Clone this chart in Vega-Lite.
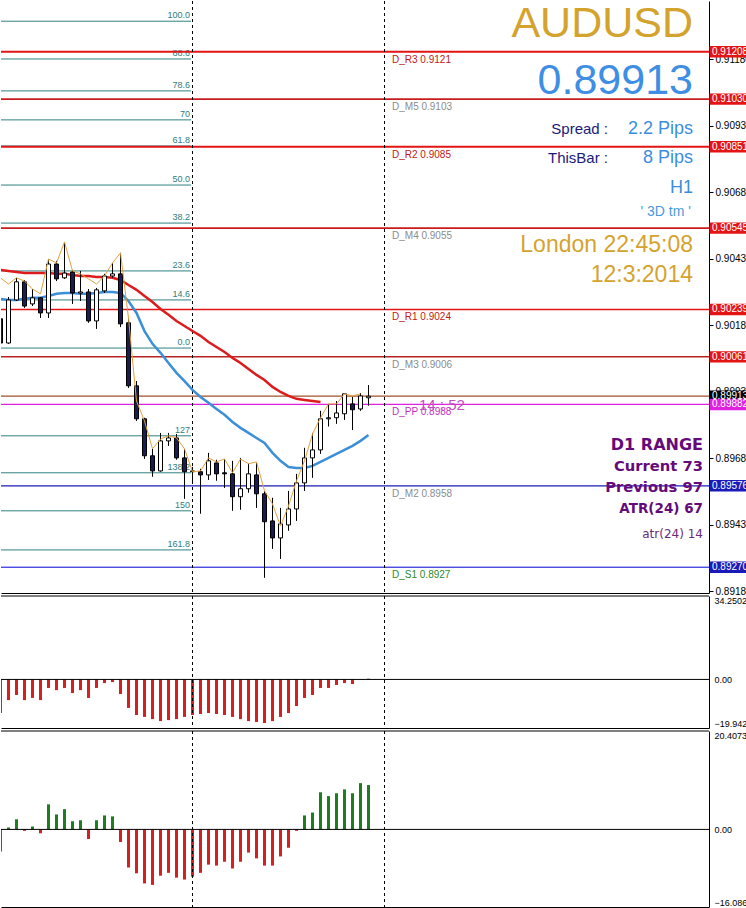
{
  "$schema": "https://vega.github.io/schema/vega-lite/v6.json",
  "padding": 0,
  "background": "white",
  "spacing": 3,
  "bounds": "flush",
  "config": {"view": {"stroke": null}, "axis": {"grid": false, "domainColor": "black", "tickColor": "black", "labelColor": "black", "labelFont": "Liberation Sans", "labelFontSize": 10}},
  "resolve": {"scale": {"x": "independent", "y": "independent", "color": "independent"}},
  "datasets": {
    "candles": [
      {"i":0,"o":0.90204,"h":0.90226,"l":0.90102,"c":0.90113,"r":0.90388,"b":0.90279,"z":0.90358},
      {"i":1,"o":0.90113,"h":0.90286,"l":0.90110,"c":0.90275,"r":0.90384,"b":0.90275,"z":0.90335},
      {"i":2,"o":0.90275,"h":0.90358,"l":0.90271,"c":0.90343,"r":0.90380,"b":0.90275,"z":0.90358},
      {"i":3,"o":0.90343,"h":0.90350,"l":0.90245,"c":0.90252,"r":0.90376,"b":0.90279,"z":0.90346},
      {"i":4,"o":0.90260,"h":0.90316,"l":0.90252,"c":0.90283,"r":0.90376,"b":0.90283,"z":0.90316},
      {"i":5,"o":0.90283,"h":0.90286,"l":0.90207,"c":0.90226,"r":0.90376,"b":0.90283,"z":0.90298},
      {"i":6,"o":0.90226,"h":0.90429,"l":0.90207,"c":0.90410,"r":0.90376,"b":0.90290,"z":0.90429},
      {"i":7,"o":0.90410,"h":0.90422,"l":0.90346,"c":0.90354,"r":0.90373,"b":0.90298,"z":0.90414},
      {"i":8,"o":0.90358,"h":0.90493,"l":0.90354,"c":0.90376,"r":0.90373,"b":0.90301,"z":0.90493},
      {"i":9,"o":0.90380,"h":0.90388,"l":0.90260,"c":0.90301,"r":0.90369,"b":0.90301,"z":0.90384},
      {"i":10,"o":0.90301,"h":0.90384,"l":0.90271,"c":0.90305,"r":0.90365,"b":0.90298,"z":0.90373},
      {"i":11,"o":0.90305,"h":0.90316,"l":0.90189,"c":0.90196,"r":0.90365,"b":0.90298,"z":0.90354},
      {"i":12,"o":0.90196,"h":0.90320,"l":0.90166,"c":0.90313,"r":0.90361,"b":0.90301,"z":0.90335},
      {"i":13,"o":0.90309,"h":0.90373,"l":0.90301,"c":0.90365,"r":0.90361,"b":0.90305,"z":0.90365},
      {"i":14,"o":0.90365,"h":0.90414,"l":0.90358,"c":0.90373,"r":0.90358,"b":0.90305,"z":0.90414},
      {"i":15,"o":0.90373,"h":0.90452,"l":0.90173,"c":0.90185,"r":0.90350,"b":0.90301,"z":0.90452},
      {"i":16,"o":0.90189,"h":0.90207,"l":0.89944,"c":0.89952,"r":0.90331,"b":0.90271,"z":0.90207},
      {"i":17,"o":0.89952,"h":0.89970,"l":0.89820,"c":0.89828,"r":0.90313,"b":0.90226,"z":0.89895},
      {"i":18,"o":0.89828,"h":0.89832,"l":0.89677,"c":0.89689,"r":0.90290,"b":0.90158,"z":0.89820},
      {"i":19,"o":0.89689,"h":0.89715,"l":0.89610,"c":0.89632,"r":0.90267,"b":0.90110,"z":0.89715},
      {"i":20,"o":0.89632,"h":0.89775,"l":0.89629,"c":0.89745,"r":0.90241,"b":0.90076,"z":0.89752},
      {"i":21,"o":0.89745,"h":0.89775,"l":0.89726,"c":0.89756,"r":0.90219,"b":0.90038,"z":0.89764},
      {"i":22,"o":0.89756,"h":0.89771,"l":0.89674,"c":0.89681,"r":0.90196,"b":0.90001,"z":0.89756},
      {"i":23,"o":0.89681,"h":0.89715,"l":0.89527,"c":0.89629,"r":0.90177,"b":0.89970,"z":0.89715},
      {"i":24,"o":0.89629,"h":0.89647,"l":0.89583,"c":0.89632,"r":0.90158,"b":0.89937,"z":0.89629},
      {"i":25,"o":0.89629,"h":0.89640,"l":0.89471,"c":0.89617,"r":0.90140,"b":0.89910,"z":0.89632},
      {"i":26,"o":0.89617,"h":0.89700,"l":0.89598,"c":0.89670,"r":0.90117,"b":0.89888,"z":0.89681},
      {"i":27,"o":0.89662,"h":0.89674,"l":0.89595,"c":0.89621,"r":0.90098,"b":0.89865,"z":0.89666},
      {"i":28,"o":0.89625,"h":0.89677,"l":0.89568,"c":0.89621,"r":0.90079,"b":0.89843,"z":0.89677},
      {"i":29,"o":0.89621,"h":0.89670,"l":0.89482,"c":0.89535,"r":0.90057,"b":0.89816,"z":0.89625},
      {"i":30,"o":0.89535,"h":0.89681,"l":0.89486,"c":0.89565,"r":0.90038,"b":0.89794,"z":0.89677},
      {"i":31,"o":0.89565,"h":0.89659,"l":0.89550,"c":0.89621,"r":0.90015,"b":0.89775,"z":0.89659},
      {"i":32,"o":0.89617,"h":0.89662,"l":0.89493,"c":0.89546,"r":0.89993,"b":0.89756,"z":0.89666},
      {"i":33,"o":0.89546,"h":0.89557,"l":0.89230,"c":0.89441,"r":0.89974,"b":0.89737,"z":0.89557},
      {"i":34,"o":0.89444,"h":0.89531,"l":0.89339,"c":0.89380,"r":0.89948,"b":0.89700,"z":0.89508},
      {"i":35,"o":0.89380,"h":0.89493,"l":0.89301,"c":0.89433,"r":0.89929,"b":0.89670,"z":0.89425},
      {"i":36,"o":0.89429,"h":0.89557,"l":0.89407,"c":0.89489,"r":0.89914,"b":0.89647,"z":0.89500},
      {"i":37,"o":0.89489,"h":0.89621,"l":0.89444,"c":0.89587,"r":0.89903,"b":0.89643,"z":0.89595},
      {"i":38,"o":0.89587,"h":0.89719,"l":0.89557,"c":0.89681,"r":0.89899,"b":0.89643,"z":0.89670},
      {"i":39,"o":0.89681,"h":0.89775,"l":0.89606,"c":0.89711,"r":0.89895,"b":0.89651,"z":0.89771},
      {"i":40,"o":0.89711,"h":0.89858,"l":0.89696,"c":0.89828,"r":0.89891,"b":0.89666,"z":0.89832},
      {"i":41,"o":0.89828,"h":0.89884,"l":0.89799,"c":0.89832,"b":0.89681,"z":0.89884},
      {"i":42,"o":0.89832,"h":0.89895,"l":0.89809,"c":0.89850,"b":0.89696,"z":0.89884},
      {"i":43,"o":0.89847,"h":0.89922,"l":0.89824,"c":0.89922,"b":0.89711,"z":0.89922},
      {"i":44,"o":0.89884,"h":0.89910,"l":0.89786,"c":0.89862,"b":0.89726,"z":0.89914},
      {"i":45,"o":0.89865,"h":0.89925,"l":0.89858,"c":0.89914,"b":0.89745,"z":0.89922},
      {"i":46,"o":0.89907,"h":0.89955,"l":0.89877,"c":0.89913,"b":0.89767}
    ],
    "pivots": [
      {"n":"D_R3","p":0.91208,"t":"D_R3 0.9121"},
      {"n":"D_M5","p":0.91030,"t":"D_M5 0.9103"},
      {"n":"D_R2","p":0.90851,"t":"D_R2 0.9085"},
      {"n":"D_M4","p":0.90545,"t":"D_M4 0.9055"},
      {"n":"D_R1","p":0.90239,"t":"D_R1 0.9024"},
      {"n":"D_M3","p":0.90061,"t":"D_M3 0.9006"},
      {"n":"Bid","p":0.89913,"t":""},
      {"n":"D_PP","p":0.89882,"t":"D_PP 0.8988"},
      {"n":"D_M2","p":0.89576,"t":"D_M2 0.8958"},
      {"n":"D_S1","p":0.89270,"t":"D_S1 0.8927"}
    ],
    "fibs": [
      {"f":"100.0","p":0.91323},{"f":"88.6","p":0.91181},{"f":"78.6","p":0.91061},{"f":"70","p":0.90952},
      {"f":"61.8","p":0.90854},{"f":"50.0","p":0.90707},{"f":"38.2","p":0.90564},{"f":"23.6","p":0.90384},
      {"f":"14.6","p":0.90275},{"f":"0.0","p":0.90094},{"f":"127","p":0.89764},{"f":"138.2","p":0.89625},
      {"f":"150","p":0.89482},{"f":"161.8","p":0.89335}
    ],
    "seps": [{"i":24},{"i":48}],
    "osc1": [
      {"i":0,"v":-13.8},{"i":1,"v":-8.5},{"i":2,"v":-6.4},{"i":3,"v":-8.5},{"i":4,"v":-7.6},{"i":5,"v":-8.5},
      {"i":6,"v":-3.5},{"i":7,"v":-4.4},{"i":8,"v":-3.5},{"i":9,"v":-5.6},{"i":10,"v":-4.4},{"i":11,"v":-7.6},
      {"i":12,"v":-3.5},{"i":13,"v":-1.5},{"i":14,"v":-1.1},{"i":15,"v":-6.0},{"i":16,"v":-11.7},{"i":17,"v":-14.6},
      {"i":18,"v":-15.4},{"i":19,"v":-16.3},{"i":20,"v":-17.1},{"i":21,"v":-16.7},{"i":22,"v":-16.3},{"i":23,"v":-15.4},
      {"i":24,"v":-14.6},{"i":25,"v":-14.2},{"i":26,"v":-13.8},{"i":27,"v":-14.2},{"i":28,"v":-14.6},{"i":29,"v":-15.4},
      {"i":30,"v":-16.3},{"i":31,"v":-17.1},{"i":32,"v":-17.5},{"i":33,"v":-17.9},{"i":34,"v":-17.1},{"i":35,"v":-15.4},
      {"i":36,"v":-13.8},{"i":37,"v":-10.9},{"i":38,"v":-7.6},{"i":39,"v":-6.4},{"i":40,"v":-3.5},{"i":41,"v":-3.5},
      {"i":42,"v":-2.3},{"i":43,"v":-1.5},{"i":44,"v":-1.9},{"i":46,"v":0.3}
    ],
    "osc2": [
      {"i":0,"v":-4.6},{"i":1,"v":0.4},{"i":2,"v":2.1},{"i":3,"v":-0.3},{"i":4,"v":0.6},{"i":5,"v":-0.8},
      {"i":6,"v":5.2},{"i":7,"v":3.1},{"i":8,"v":4.2},{"i":9,"v":1.7},{"i":10,"v":1.9},{"i":11,"v":-2.0},
      {"i":12,"v":1.9},{"i":13,"v":2.9},{"i":14,"v":2.7},{"i":15,"v":-2.6},{"i":16,"v":-7.9},{"i":17,"v":-9.1},
      {"i":18,"v":-11.2},{"i":19,"v":-11.5},{"i":20,"v":-9.6},{"i":21,"v":-9.0},{"i":22,"v":-10.0},{"i":23,"v":-10.4},
      {"i":24,"v":-9.8},{"i":25,"v":-9.0},{"i":26,"v":-7.3},{"i":27,"v":-7.5},{"i":28,"v":-6.7},{"i":29,"v":-8.1},
      {"i":30,"v":-6.7},{"i":31,"v":-4.8},{"i":32,"v":-6.0},{"i":33,"v":-7.5},{"i":34,"v":-7.5},{"i":35,"v":-5.6},
      {"i":36,"v":-3.8},{"i":37,"v":-0.3},{"i":38,"v":2.9},{"i":39,"v":3.5},{"i":40,"v":7.7},{"i":41,"v":6.9},
      {"i":42,"v":7.5},{"i":43,"v":8.3},{"i":44,"v":7.5},{"i":45,"v":9.6},{"i":46,"v":9.2}
    ]
  },
  "vconcat": [
    {
      "width": 708,
      "height": 592,
      "resolve": {"scale": {"color": "independent"}},
      "layer": [
        {
          "data": {"name": "fibs"},
          "mark": {"type": "rule", "color": "#2e8080", "strokeWidth": 1},
          "encoding": {
            "x": {"datum": 0.0625, "type": "quantitative", "scale": {"domain": [0.0625, 88.5625], "nice": false, "zero": false, "padding": 0}, "axis": {"orient": "bottom", "labels": false, "ticks": false, "domain": true, "title": null}},
            "x2": {"datum": 23.81},
            "y": {"field": "p", "type": "quantitative", "scale": {"domain": [0.89173, 0.91399], "nice": false, "zero": false, "padding": 0}, "axis": {"orient": "right", "title": null, "values": [0.8918, 0.89305, 0.8943, 0.89555, 0.8968, 0.89805, 0.8993, 0.90055, 0.9018, 0.90305, 0.9043, 0.90555, 0.9068, 0.90805, 0.9093, 0.91055, 0.9118, 0.91305], "format": ".5f", "tickSize": 4, "labelPadding": 2, "domain": true}}
          }
        },
        {
          "data": {"name": "fibs"},
          "mark": {"type": "text", "align": "right", "baseline": "bottom", "dy": -1, "font": "Liberation Sans", "fontSize": 9, "color": "#2e7e7e"},
          "encoding": {"x": {"datum": 23.69, "type": "quantitative"}, "y": {"field": "p", "type": "quantitative"}, "text": {"field": "f"}}
        },
        {
          "data": {"name": "pivots"},
          "mark": {"type": "rule"},
          "encoding": {
            "y": {"field": "p", "type": "quantitative"},
            "color": {"field": "n", "type": "nominal", "legend": null, "scale": {"domain": ["D_R3","D_M5","D_R2","D_M4","D_R1","D_M3","Bid","D_PP","D_M2","D_S1"], "range": ["#e31414","#c81c1c","#e31414","#c81c1c","#e31414","#b82222","#a0522d","#e020e0","#1a1ab8","#0000d8"]}},
            "strokeWidth": {"field": "n", "type": "ordinal", "legend": null, "scale": {"domain": ["D_R3","D_M5","D_R2","D_M4","D_R1","D_M3","Bid","D_PP","D_M2","D_S1"], "range": [2,1,2,1,2,1,1,2,1,2]}}
          }
        },
        {
          "data": {"name": "pivots"},
          "mark": {"type": "text", "align": "left", "baseline": "top", "dy": 3, "font": "Liberation Sans", "fontSize": 10},
          "encoding": {
            "x": {"datum": 48.94, "type": "quantitative"},
            "y": {"field": "p", "type": "quantitative"},
            "text": {"field": "t"},
            "color": {"field": "n", "type": "nominal", "legend": null, "scale": {"domain": ["D_R3","D_M5","D_R2","D_M4","D_R1","D_M3","Bid","D_PP","D_M2","D_S1"], "range": ["#c01818","#8c8c8c","#c01818","#8c8c8c","#c01818","#8c8c8c","#000000","#c030c0","#8c8c8c","#2a8a2a"]}}
          }
        },
        {
          "data": {"name": "seps"},
          "mark": {"type": "rule", "color": "black", "strokeWidth": 1, "strokeDash": [3, 3]},
          "encoding": {"x": {"field": "i", "type": "quantitative"}}
        },
        {
          "data": {"name": "candles"},
          "mark": {"type": "line", "color": "#dc1c1c", "strokeWidth": 2.5, "clip": true},
          "encoding": {"x": {"field": "i", "type": "quantitative"}, "y": {"field": "r", "type": "quantitative"}}
        },
        {
          "data": {"name": "candles"},
          "mark": {"type": "line", "color": "#3b8fd9", "strokeWidth": 2.5, "clip": true},
          "encoding": {"x": {"field": "i", "type": "quantitative"}, "y": {"field": "b", "type": "quantitative"}}
        },
        {
          "data": {"name": "candles"},
          "mark": {"type": "rule", "color": "black", "strokeWidth": 1, "clip": true},
          "encoding": {"x": {"field": "i", "type": "quantitative"}, "y": {"field": "l", "type": "quantitative"}, "y2": {"field": "h"}}
        },
        {
          "data": {"name": "candles"},
          "mark": {"type": "bar", "width": 4, "stroke": "black", "strokeWidth": 1, "clip": true},
          "encoding": {
            "x": {"field": "i", "type": "quantitative"},
            "y": {"field": "o", "type": "quantitative"},
            "y2": {"field": "c"},
            "fill": {"condition": {"test": "datum.c >= datum.o", "value": "white"}, "value": "#1c1c54"}
          }
        },
        {
          "data": {"name": "candles"},
          "mark": {"type": "line", "color": "#e3a040", "strokeWidth": 1, "clip": true},
          "encoding": {"x": {"field": "i", "type": "quantitative"}, "y": {"field": "z", "type": "quantitative"}}
        },
        {
          "data": {"values": [{"t": "14 : 52"}]},
          "mark": {"type": "text", "align": "left", "baseline": "middle", "font": "Liberation Sans", "fontSize": 15, "color": "#c050c0"},
          "encoding": {"x": {"datum": 52.31, "type": "quantitative"}, "y": {"datum": 0.8988, "type": "quantitative"}, "text": {"field": "t"}}
        },
        {
          "data": {"values": [{"t": "AUDUSD"}]},
          "mark": {"type": "text", "align": "right", "baseline": "alphabetic", "font": "Liberation Sans", "fontSize": 43, "color": "#d4a32e"},
          "encoding": {"x": {"datum": 86.56, "type": "quantitative"}, "y": {"datum": 0.91264, "type": "quantitative"}, "text": {"field": "t"}}
        },
        {
          "data": {"values": [{"t": "0.89913"}]},
          "mark": {"type": "text", "align": "right", "baseline": "alphabetic", "font": "Liberation Sans", "fontSize": 43, "color": "#3d8ee4"},
          "encoding": {"x": {"datum": 86.56, "type": "quantitative"}, "y": {"datum": 0.91049, "type": "quantitative"}, "text": {"field": "t"}}
        },
        {
          "data": {"values": [{"t": "Spread :", "p": 0.90899}, {"t": "ThisBar :", "p": 0.9079}]},
          "mark": {"type": "text", "align": "right", "baseline": "alphabetic", "font": "Liberation Sans", "fontSize": 15, "color": "#1a1a7a"},
          "encoding": {"x": {"datum": 75.94, "type": "quantitative"}, "y": {"field": "p", "type": "quantitative"}, "text": {"field": "t"}}
        },
        {
          "data": {"values": [{"t": "2.2 Pips", "p": 0.90899}, {"t": "8 Pips", "p": 0.9079}, {"t": "H1", "p": 0.90677}]},
          "mark": {"type": "text", "align": "right", "baseline": "alphabetic", "font": "Liberation Sans", "fontSize": 18, "color": "#3a8ee0"},
          "encoding": {"x": {"datum": 86.56, "type": "quantitative"}, "y": {"field": "p", "type": "quantitative"}, "text": {"field": "t"}}
        },
        {
          "data": {"values": [{"t": "' 3D tm '"}]},
          "mark": {"type": "text", "align": "right", "baseline": "alphabetic", "font": "Liberation Sans", "fontSize": 14, "color": "#4a9ae0"},
          "encoding": {"x": {"datum": 86.31, "type": "quantitative"}, "y": {"datum": 0.90591, "type": "quantitative"}, "text": {"field": "t"}}
        },
        {
          "data": {"values": [{"t": "London 22:45:08", "p": 0.90455}, {"t": "12:3:2014", "p": 0.90343}]},
          "mark": {"type": "text", "align": "right", "baseline": "alphabetic", "font": "Liberation Sans", "fontSize": 23, "color": "#d4a32e"},
          "encoding": {"x": {"datum": 86.56, "type": "quantitative"}, "y": {"field": "p", "type": "quantitative"}, "text": {"field": "t"}}
        },
        {
          "data": {"values": [{"t": "D1 RANGE", "p": 0.89711, "s": "a"}, {"t": "Current 73", "p": 0.89632, "s": "b"}, {"t": "Previous 97", "p": 0.89553, "s": "b"}, {"t": "ATR(24) 67", "p": 0.89474, "s": "c"}]},
          "mark": {"type": "text", "align": "right", "baseline": "alphabetic", "font": "DejaVu Sans", "fontWeight": "bold", "color": "#650a7a"},
          "encoding": {
            "x": {"datum": 87.81, "type": "quantitative"},
            "y": {"field": "p", "type": "quantitative"},
            "text": {"field": "t"},
            "size": {"field": "s", "type": "ordinal", "legend": null, "scale": {"domain": ["a", "b", "c"], "range": [16, 13.5, 14]}}
          }
        },
        {
          "data": {"values": [{"t": "atr(24) 14"}]},
          "mark": {"type": "text", "align": "right", "baseline": "alphabetic", "font": "DejaVu Sans", "fontSize": 12, "color": "#6a2a80"},
          "encoding": {"x": {"datum": 87.81, "type": "quantitative"}, "y": {"datum": 0.8938, "type": "quantitative"}, "text": {"field": "t"}}
        },
        {
          "data": {"name": "pivots"},
          "mark": {"type": "point", "shape": "M-1,-0.3H1V0.3H-1Z", "size": 1444, "filled": true, "opacity": 1, "strokeWidth": 0},
          "encoding": {
            "x": {"datum": 91.0, "type": "quantitative"},
            "y": {"field": "p", "type": "quantitative"},
            "color": {"field": "n", "type": "nominal", "legend": null, "scale": {"domain": ["D_R3","D_M5","D_R2","D_M4","D_R1","D_M3","Bid","D_PP","D_M2","D_S1"], "range": ["#e31414","#e31414","#e31414","#e31414","#e31414","#e31414","#000000","#e020e0","#1a1ab8","#1a1ab8"]}}
          }
        },
        {
          "data": {"name": "pivots"},
          "mark": {"type": "text", "align": "left", "baseline": "middle", "font": "Liberation Sans", "fontSize": 10, "color": "white"},
          "encoding": {"x": {"datum": 88.94, "type": "quantitative"}, "y": {"field": "p", "type": "quantitative"}, "text": {"field": "p", "format": ".5f"}}
        }
      ]
    },
    {
      "width": 708,
      "height": 132,
      "layer": [
        {
          "data": {"name": "osc1"},
          "mark": {"type": "bar", "width": 3, "clip": true},
          "encoding": {
            "x": {"field": "i", "type": "quantitative", "scale": {"domain": [0.0625, 88.5625], "nice": false, "zero": false, "padding": 0}, "axis": {"orient": "bottom", "labels": false, "ticks": false, "domain": true, "title": null}},
            "y": {"field": "v", "type": "quantitative", "scale": {"domain": [-19.9423, 34.2502], "nice": false, "zero": false, "padding": 0}, "axis": {"orient": "right", "title": null, "values": [-19.9423, 0, 34.2502], "labelExpr": "datum.value == 0 ? '0.00' : format(datum.value, '.4f')", "labelFlush": true, "ticks": false, "labelPadding": 5, "labelFontSize": 9, "domain": true}},
            "y2": {"datum": 0},
            "color": {"condition": {"test": "datum.v >= 0", "value": "#1e7d1e"}, "value": "#d42020"}
          }
        },
        {
          "data": {"values": [{"v": 0}, {"v": 34.2502}]},
          "mark": {"type": "rule", "color": "black", "strokeWidth": 1},
          "encoding": {"y": {"field": "v", "type": "quantitative"}}
        },
        {
          "data": {"name": "seps"},
          "mark": {"type": "rule", "color": "black", "strokeWidth": 1, "strokeDash": [3, 3]},
          "encoding": {"x": {"field": "i", "type": "quantitative"}}
        }
      ]
    },
    {
      "width": 708,
      "height": 176,
      "layer": [
        {
          "data": {"name": "osc2"},
          "mark": {"type": "bar", "width": 3, "clip": true},
          "encoding": {
            "x": {"field": "i", "type": "quantitative", "scale": {"domain": [0.0625, 88.5625], "nice": false, "zero": false, "padding": 0}, "axis": {"orient": "bottom", "labels": false, "ticks": false, "domain": true, "title": null}},
            "y": {"field": "v", "type": "quantitative", "scale": {"domain": [-16.0868, 20.4073], "nice": false, "zero": false, "padding": 0}, "axis": {"orient": "right", "title": null, "values": [-16.0868, 0, 20.4073], "labelExpr": "datum.value == 0 ? '0.00' : format(datum.value, '.4f')", "labelFlush": true, "ticks": false, "labelPadding": 5, "labelFontSize": 9, "domain": true}},
            "y2": {"datum": 0},
            "color": {"condition": {"test": "datum.v >= 0", "value": "#1e7d1e"}, "value": "#d42020"}
          }
        },
        {
          "data": {"values": [{"v": 0}, {"v": 20.4073}]},
          "mark": {"type": "rule", "color": "black", "strokeWidth": 1},
          "encoding": {"y": {"field": "v", "type": "quantitative"}}
        },
        {
          "data": {"name": "seps"},
          "mark": {"type": "rule", "color": "black", "strokeWidth": 1, "strokeDash": [3, 3]},
          "encoding": {"x": {"field": "i", "type": "quantitative"}}
        }
      ]
    }
  ]
}
